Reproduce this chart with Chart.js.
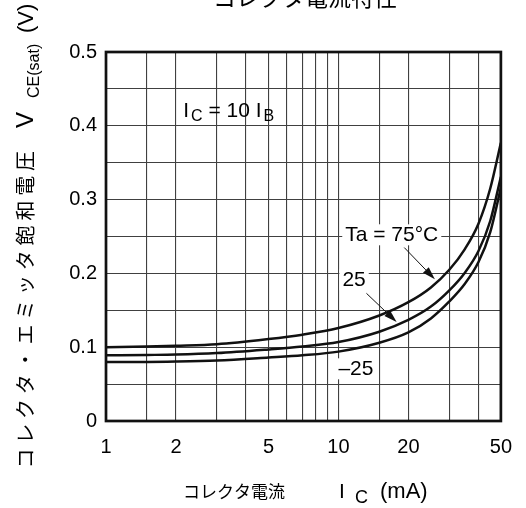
<!DOCTYPE html>
<html>
<head>
<meta charset="utf-8">
<script src="https://cdn.jsdelivr.net/npm/chart.js@4.4.1/dist/chart.umd.min.js"></script>
<style>
  html, body { margin: 0; padding: 0; background: #fff; }
</style>
</head>
<body>
<canvas id="vce-chart" width="526" height="508"></canvas>
<script>
// collector current Ic (mA) and Vce(sat) (V) for each ambient temperature
const collectorCurrent = [1, 1.5, 2, 3, 5, 7, 10, 15, 20, 25, 30, 35, 40, 45, 50];
const vceTa75 = [0.100, 0.101, 0.102, 0.104, 0.111, 0.117, 0.126, 0.143, 0.161, 0.181, 0.205, 0.233, 0.267, 0.315, 0.377];
const vceTa25 = [0.089, 0.0895, 0.090, 0.092, 0.097, 0.101, 0.107, 0.121, 0.137, 0.155, 0.177, 0.201, 0.230, 0.271, 0.331];
const vceTaMinus25 = [0.080, 0.080, 0.0805, 0.082, 0.086, 0.089, 0.094, 0.106, 0.120, 0.139, 0.162, 0.186, 0.215, 0.256, 0.316];

// grid and tick labels
const xGridValues = [1, 1.5, 2, 3, 4, 5, 6, 7, 8, 9, 10, 15, 20, 30, 40, 50];
const xTickLabels = [1, 2, 5, 10, 20, 50];
const yTickLabels = [0, 0.1, 0.2, 0.3, 0.4, 0.5];

const latin = '"Liberation Sans", Arial, sans-serif';
const cjk = '"Noto Sans CJK JP", "Noto Sans", sans-serif';

Chart.defaults.font.family = latin;
Chart.defaults.color = '#000';

const toPoints = (vals) => collectorCurrent.map((c, i) => ({ x: c, y: vals[i] }));

const curveStyle = {
  borderColor: '#111',
  borderWidth: 2.5,
  pointRadius: 0,
  fill: false,
  cubicInterpolationMode: 'monotone'
};

// draws text pieces one after another (main text + subscript)
function drawRuns(ctx, x, y, runs) {
  runs.forEach(r => {
    ctx.font = r.font;
    ctx.fillText(r.text, x, y + (r.dy || 0));
    x += ctx.measureText(r.text).width + (r.gap || 0);
  });
  return x;
}

function runsWidth(ctx, runs) {
  let w = 0;
  runs.forEach(r => { ctx.font = r.font; w += ctx.measureText(r.text).width + (r.gap || 0); });
  return w;
}

function arrow(ctx, x1, y1, x2, y2) {
  const a = Math.atan2(y2 - y1, x2 - x1);
  const len = 13, half = 4;
  ctx.beginPath();
  ctx.moveTo(x1, y1);
  ctx.lineTo(x2 - len * Math.cos(a), y2 - len * Math.sin(a));
  ctx.lineWidth = 1;
  ctx.strokeStyle = '#111';
  ctx.stroke();
  ctx.beginPath();
  ctx.moveTo(x2, y2);
  ctx.lineTo(x2 - len * Math.cos(a) + half * Math.sin(a), y2 - len * Math.sin(a) - half * Math.cos(a));
  ctx.lineTo(x2 - len * Math.cos(a) - half * Math.sin(a), y2 - len * Math.sin(a) + half * Math.cos(a));
  ctx.closePath();
  ctx.fillStyle = '#111';
  ctx.fill();
}

const notesPlugin = {
  id: 'notes',
  afterDatasetsDraw(chart) {
    const { ctx, scales: { x, y }, chartArea } = chart;
    ctx.save();
    ctx.textBaseline = 'alphabetic';

    const main = '21px ' + latin;
    const sub = '16px ' + latin;

    // temperature labels on a white patch, placed in data units
    const labels = [
      { ic: 10.7, v: 0.2435, runs: [{ text: 'Ta = 75\u00B0C', font: main }] },
      { ic: 10.4, v: 0.1825, runs: [{ text: '25', font: main }] },
      { ic: 10.0, v: 0.0619, runs: [{ text: '\u201325', font: main }] }
    ];
    labels.forEach(l => {
      const px = x.getPixelForValue(l.ic), py = y.getPixelForValue(l.v);
      const w = runsWidth(ctx, l.runs);
      ctx.fillStyle = '#fff';
      ctx.fillRect(px - 3, py - 17, w + 6, 21);
      ctx.fillStyle = '#000';
      drawRuns(ctx, px, py, l.runs);
    });

    // Ic = 10 Ib
    ctx.fillStyle = '#000';
    drawRuns(ctx, x.getPixelForValue(2.15), y.getPixelForValue(0.4115), [
      { text: 'I', font: main, gap: 2 },
      { text: 'C', font: sub, dy: 4 },
      { text: ' = 10 I', font: main, gap: 2 },
      { text: 'B', font: sub, dy: 4 }
    ]);

    // arrows pointing at curves
    arrow(ctx, x.getPixelForValue(19.2), y.getPixelForValue(0.235),
      x.getPixelForValue(26.0), y.getPixelForValue(0.192));
    arrow(ctx, x.getPixelForValue(13.2), y.getPixelForValue(0.173),
      x.getPixelForValue(17.8), y.getPixelForValue(0.134));

    // frame
    ctx.lineWidth = 2.7;
    ctx.strokeStyle = '#111';
    ctx.strokeRect(chartArea.left, chartArea.top, chartArea.right - chartArea.left, chartArea.bottom - chartArea.top);
    ctx.restore();
  }
};

const titlesPlugin = {
  id: 'titles',
  afterDraw(chart) {
    const { ctx } = chart;
    ctx.save();
    ctx.fillStyle = '#000';

    // top title, mostly cut off by the image edge
    ctx.font = '23px ' + cjk;
    ctx.textAlign = 'center';
    ctx.textBaseline = 'alphabetic';
    ctx.fillText('コレクタ電流特性', 305, 6);

    // x axis title
    ctx.textAlign = 'left';
    ctx.font = '17px ' + cjk;
    ctx.fillText('コレクタ電流', 183, 498);
    drawRuns(ctx, 339, 498, [{ text: 'I', font: '21px ' + latin }]);
    drawRuns(ctx, 355, 503, [{ text: 'C', font: '18px ' + latin }]);
    drawRuns(ctx, 380, 498, [{ text: '(mA)', font: '22px ' + latin }]);

    // y axis title, rotated
    ctx.translate(0, 471);
    ctx.rotate(-Math.PI / 2);
    ctx.font = '20px ' + cjk;
    ctx.textAlign = 'center';
    const jp = 'コレクタ・エミッタ飽和電圧';
    const step = 24.8;
    for (let i = 0; i < jp.length; i++) {
      ctx.fillText(jp[i], step * i + step / 2, 33);
    }
    ctx.textAlign = 'left';
    drawRuns(ctx, 343, 33, [{ text: 'V', font: '24px ' + latin }]);
    drawRuns(ctx, 373, 39, [{ text: 'CE(sat)', font: '16px ' + latin }]);
    drawRuns(ctx, 438, 33, [{ text: '(V)', font: '22px ' + latin }]);
    ctx.restore();
  }
};

const vceCanvas = document.querySelector('#vce-chart');

let vceChart = new Chart(vceCanvas, {
  type: 'line',
  data: {
    datasets: [
      { label: 'Ta = 75°C', data: toPoints(vceTa75), ...curveStyle },
      { label: 'Ta = 25°C', data: toPoints(vceTa25), ...curveStyle },
      { label: 'Ta = -25°C', data: toPoints(vceTaMinus25), ...curveStyle }
    ]
  },
  options: {
    responsive: false,
    animation: false,
    layout: { padding: { top: 52, right: 19, left: 0, bottom: 0 } },
    scales: {
      x: {
        type: 'logarithmic',
        min: 1,
        max: 50,
        afterBuildTicks: (scale) => { scale.ticks = xGridValues.map(v => ({ value: v })); },
        afterFit: (scale) => { scale.height = 87; },
        grid: { color: '#404040', lineWidth: 1.1, drawTicks: false },
        border: { display: false },
        ticks: {
          autoSkip: false,
          maxRotation: 0,
          padding: 14,
          font: { size: 20 },
          callback: (v) => xTickLabels.includes(v) ? String(v) : ''
        }
      },
      y: {
        min: 0,
        max: 0.5,
        afterFit: (scale) => { scale.width = 106; },
        grid: { color: '#404040', lineWidth: 1.1, drawTicks: false },
        border: { display: false },
        ticks: {
          stepSize: 0.05,
          padding: 9,
          font: { size: 20 },
          callback: (v) => {
            const t = yTickLabels.find(l => Math.abs(l - v) < 1e-9);
            return t === undefined ? '' : String(t);
          }
        }
      }
    },
    plugins: {
      legend: { display: false },
      tooltip: { enabled: false }
    }
  },
  plugins: [notesPlugin, titlesPlugin]
});
</script>
</body>
</html>
